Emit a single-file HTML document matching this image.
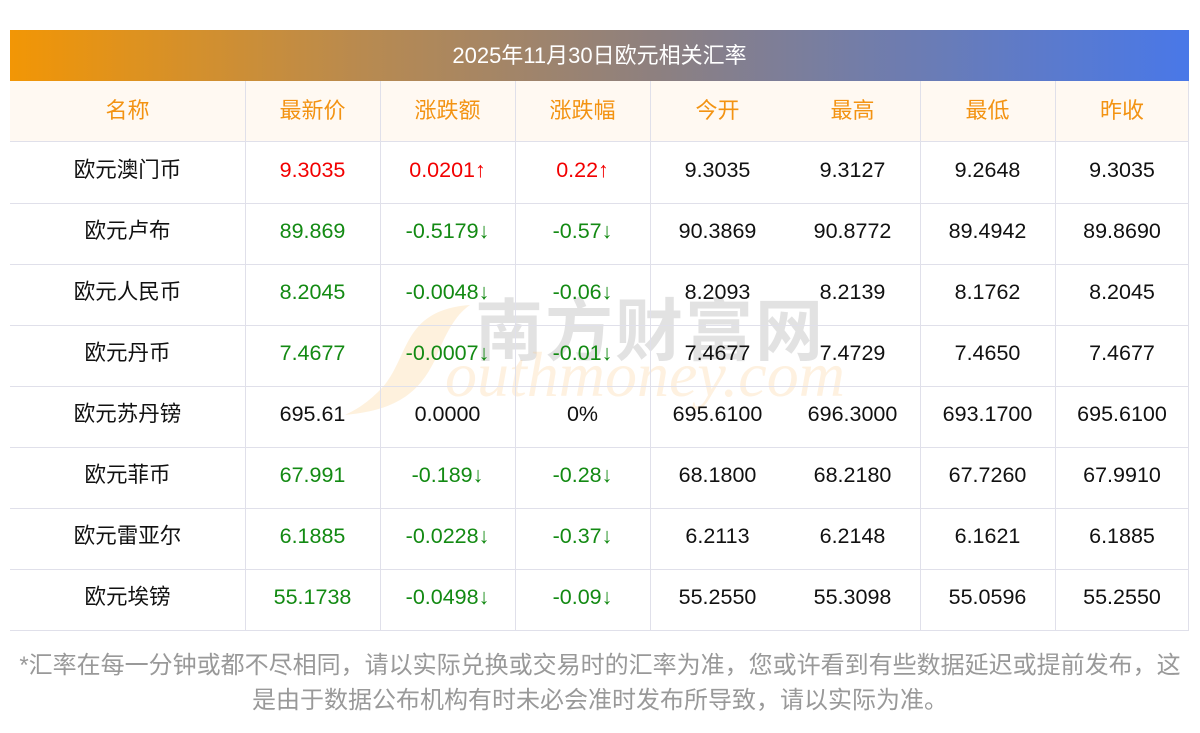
<!DOCTYPE html>
<html><head><meta charset="utf-8"><style>
body{margin:0;width:1200px;height:733px;background:#fff;position:relative;overflow:hidden;font-family:"Liberation Sans","Noto Sans CJK SC",sans-serif}
.bar{position:absolute;left:10px;top:30px;width:1179px;height:51px;background:linear-gradient(90deg,#f29605,#b88a50 30%,#8d8080 55%,#4978e8);color:#fff;font-size:22px;line-height:51px;text-align:center}
.hdr{position:absolute;left:10px;top:81px;width:1178px;height:61px;background:#fff9f2}
.c{position:absolute;text-align:center;font-size:21.5px;line-height:61px}
.h{color:#f39312;font-size:22px}
.vl{position:absolute;width:1px;background:#e0e0ea}
.hl{position:absolute;left:10px;width:1179px;height:1px;background:#e0e0ea}
.r{color:#f20000}.g{color:#138a13}.k{color:#111}
.foot{position:absolute;left:0px;top:648px;width:1200px;text-align:center;color:#999;font-size:24px;line-height:35px;white-space:nowrap}
.wm1{position:absolute;left:475px;top:290px;font-size:68px;color:rgba(150,150,150,0.28);font-weight:bold;letter-spacing:2px;font-family:"Noto Sans CJK SC",sans-serif;line-height:72px}
.wm2{position:absolute;left:445px;top:340px;font-size:64px;color:rgba(250,200,130,0.25);font-style:italic;font-family:"Liberation Serif",serif;line-height:70px}
</style></head><body>
<div class="bar">2025年11月30日欧元相关汇率</div>
<div class="hdr"></div>
<svg style="position:absolute;left:340px;top:300px" width="140" height="120"><path d="M130 5 C60 10 70 60 40 90 C25 105 15 110 5 115 C60 110 80 90 95 60 C105 35 115 15 130 5Z" fill="rgba(250,200,120,0.25)"/></svg>
<div class="wm1">南方财富网</div>
<div class="wm2">outhmoney.com</div>
<div id="t"></div>
<div class="foot">*汇率在每一分钟或都不尽相同，请以实际兑换或交易时的汇率为准，您或许看到有些数据延迟或提前发布，这<br>是由于数据公布机构有时未必会准时发布所导致，请以实际为准。</div>
<script>
var xs=[10,245,380,515,650,785,920,1055,1189];
var H=['名称','最新价','涨跌额','涨跌幅','今开','最高','最低','昨收'];
var R=[['欧元澳门币','9.3035','0.0201↑','0.22↑','9.3035','9.3127','9.2648','9.3035','r'],
['欧元卢布','89.869','-0.5179↓','-0.57↓','90.3869','90.8772','89.4942','89.8690','g'],
['欧元人民币','8.2045','-0.0048↓','-0.06↓','8.2093','8.2139','8.1762','8.2045','g'],
['欧元丹币','7.4677','-0.0007↓','-0.01↓','7.4677','7.4729','7.4650','7.4677','g'],
['欧元苏丹镑','695.61','0.0000','0%','695.6100','696.3000','693.1700','695.6100','k'],
['欧元菲币','67.991','-0.189↓','-0.28↓','68.1800','68.2180','67.7260','67.9910','g'],
['欧元雷亚尔','6.1885','-0.0228↓','-0.37↓','6.2113','6.2148','6.1621','6.1885','g'],
['欧元埃镑','55.1738','-0.0498↓','-0.09↓','55.2550','55.3098','55.0596','55.2550','g']];
var s='';
function cell(i,y,txt,cls){s+='<div class="c '+cls+'" style="left:'+xs[i]+'px;width:'+(xs[i+1]-xs[i])+'px;top:'+y+'px">'+txt+'</div>';}
H.forEach(function(h,i){cell(i,80,h,'h');});
R.forEach(function(r,j){var y=140+61*j;for(var i=0;i<8;i++){cell(i,y,r[i],(i>=1&&i<=3)?r[8]:'k');}});
for(var j=0;j<9;j++){s+='<div class="hl" style="top:'+(142+61*j-(j==0?1:0))+'px"></div>';}
[245,380,515,650,920,1055,1188].forEach(function(x){s+='<div class="vl" style="left:'+x+'px;top:81px;height:550px"></div>';});
document.getElementById('t').innerHTML=s;
</script>
</body></html>
